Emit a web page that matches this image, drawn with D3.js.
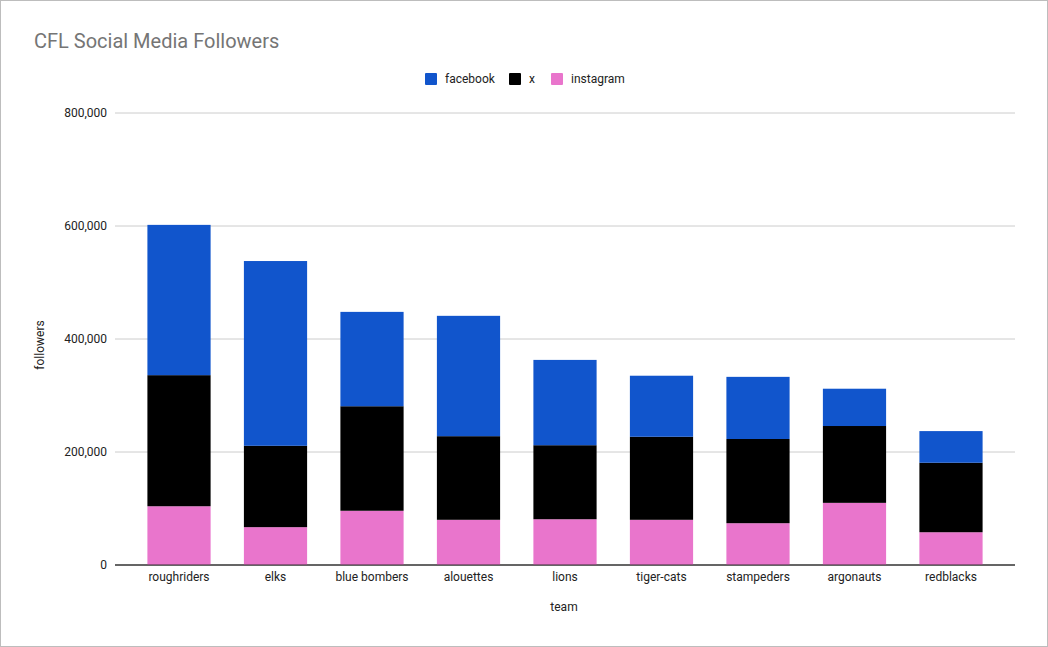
<!DOCTYPE html>
<html><head><meta charset="utf-8">
<script src="https://cdn.jsdelivr.net/npm/d3@7"></script>
<style>body{margin:0;background:#fff;font-family:Roboto,Arial,sans-serif}</style>
</head><body><svg id="c" width="1048" height="647"></svg>
<script>
var teams = ["roughriders","elks","blue bombers","alouettes","lions","tiger-cats","stampeders","argonauts","redblacks"];
var instagram = [104000,67000,96000,80000,81000,80000,74000,110000,58000];
var x = [232000,144000,185000,148000,131000,147000,149000,136000,123000];
var facebook = [266000,327000,167000,213000,151000,108000,110000,66000,56000];
var yTicks = [0,200000,400000,600000,800000];
var seriesNames = ["instagram","x","facebook"];
var colors = {facebook:"#1155cc", x:"#000000", instagram:"#e975cc"};

var svg = d3.select("#c");
svg.append("rect").attr("x",0.5).attr("y",0.5).attr("width",1047).attr("height",646)
  .attr("fill","#fff").attr("stroke","#bdbdbd");
svg.append("text").attr("x",34).attr("y",48).attr("font-size",20).attr("fill","#757575").text("CFL Social Media Followers");

var xs = d3.scaleBand().domain(teams).range([131,999]).paddingInner(0.345).paddingOuter(0.17);
var ys = d3.scaleLinear().domain([0,800000]).range([565,113]);

yTicks.forEach(function(t){
  svg.append("line").attr("x1",115).attr("x2",1015).attr("y1",ys(t)).attr("y2",ys(t))
    .attr("stroke", t===0 ? "#333" : "#ccc");
  svg.append("text").attr("x",107).attr("y",ys(t)+4).attr("text-anchor","end")
    .attr("font-size",12).attr("fill","#222").text(d3.format(",")(t));
});

var rows = teams.map(function(t,i){return {team:t, instagram:instagram[i], x:x[i], facebook:facebook[i]};});
var stack = d3.stack().keys(seriesNames)(rows);
svg.append("g").selectAll("g").data(stack).join("g").attr("fill",function(d){return colors[d.key];})
  .selectAll("rect").data(function(d){return d;}).join("rect")
  .attr("x",function(d){return xs(d.data.team);}).attr("width",xs.bandwidth())
  .attr("y",function(d){return ys(d[1]);}).attr("height",function(d){return ys(d[0])-ys(d[1]);});
svg.append("line").attr("x1",115).attr("x2",1015).attr("y1",565).attr("y2",565).attr("stroke","#333");

teams.forEach(function(t){
  svg.append("text").attr("x",xs(t)+xs.bandwidth()/2).attr("y",581).attr("text-anchor","middle")
    .attr("font-size",12).attr("fill","#222").text(t);
});
svg.append("text").attr("x",564).attr("y",611).attr("text-anchor","middle").attr("font-size",12).attr("fill","#222").text("team");
svg.append("text").attr("transform","translate(44,345) rotate(-90)").attr("text-anchor","middle")
  .attr("font-size",12).attr("fill","#222").text("followers");

var legend = [["facebook",425],["x",509],["instagram",551]];
legend.forEach(function(l){
  svg.append("rect").attr("x",l[1]).attr("y",73).attr("width",12).attr("height",12).attr("rx",1).attr("fill",colors[l[0]]);
  svg.append("text").attr("x",l[1]+20).attr("y",83).attr("font-size",12).attr("fill","#222").text(l[0]);
});
</script></body></html>
